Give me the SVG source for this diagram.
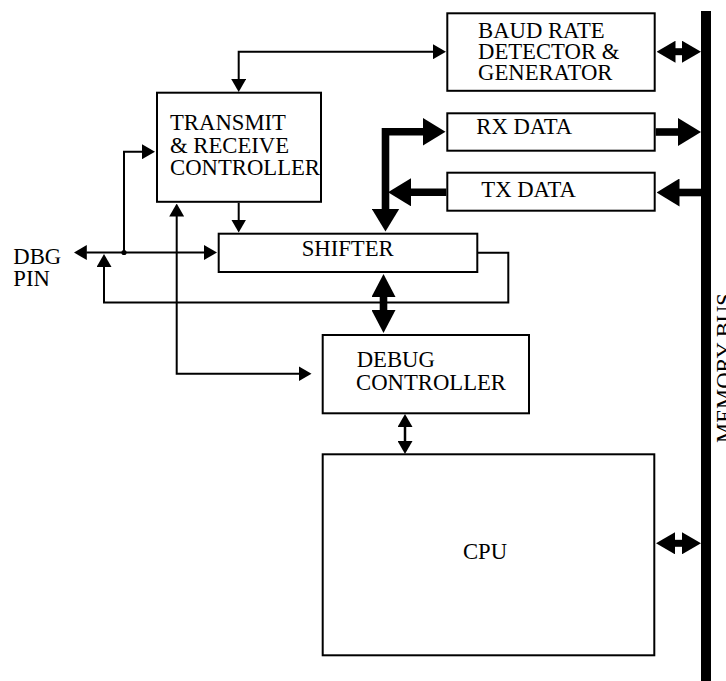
<svg xmlns="http://www.w3.org/2000/svg" width="726" height="681" viewBox="0 0 726 681">
<style>
.box{fill:#fff;stroke:#000;stroke-width:2}
.t{font-size:22.7px;fill:#000}
.thin{fill:none;stroke:#000;stroke-width:2}
.thk{fill:none;stroke:#000;stroke-width:7.6;stroke-linejoin:miter}
.mid{fill:none;stroke:#000;stroke-width:7}
</style>
<defs>
<marker id="ah" markerUnits="userSpaceOnUse" markerWidth="13" markerHeight="15" viewBox="0 0 13 15" refX="0.5" refY="7.5" orient="auto-start-reverse"><path d="M0,0 L13,7.5 L0,15 z"/></marker>
<marker id="ahT" markerUnits="userSpaceOnUse" markerWidth="23" markerHeight="28" viewBox="0 0 23 28" refX="0.5" refY="14" orient="auto-start-reverse"><path d="M0,0 L23,14 L0,28 z"/></marker>
<marker id="ahB" markerUnits="userSpaceOnUse" markerWidth="19" markerHeight="22" viewBox="0 0 19 22" refX="0.5" refY="11" orient="auto-start-reverse"><path d="M0,0 L19,11 L0,22 z"/></marker>
<marker id="ahC" markerUnits="userSpaceOnUse" markerWidth="23" markerHeight="24" viewBox="0 0 23 24" refX="0.5" refY="12" orient="auto-start-reverse"><path d="M0,0 L23,12 L0,24 z"/></marker>
</defs>

<g font-family="'Liberation Serif', 'Times New Roman', Times, 'DejaVu Serif', serif">
<g id="memory-bus">
<rect x="701" y="11" width="10" height="670" fill="#000"/>
<text class="t" transform="translate(731.5,443) rotate(-90)">MEMORY BUS</text>
</g>

<g id="baud">
<rect class="box" x="447.3" y="13.3" width="207.4" height="77.5"/>
<text class="t" x="478" y="38">BAUD RATE</text>
<text class="t" x="478" y="58.5">DETECTOR &amp;</text>
<text class="t" x="478" y="79.5">GENERATOR</text>
</g>

<g id="rx-data">
<rect class="box" x="447.3" y="113.3" width="207.4" height="37.4"/>
<text class="t" x="476.3" y="133.5">RX DATA</text>
</g>

<g id="tx-data">
<rect class="box" x="447.3" y="172.7" width="207.4" height="38"/>
<text class="t" x="481.3" y="196.5">TX DATA</text>
</g>

<g id="transmit">
<rect class="box" x="157" y="92.7" width="164" height="109.1"/>
<text class="t" x="170" y="130">TRANSMIT</text>
<text class="t" x="170" y="152.7">&amp; RECEIVE</text>
<text class="t" x="170" y="175">CONTROLLER</text>
</g>

<g id="shifter">
<rect class="box" x="218.7" y="233.7" width="258.6" height="38.3"/>
<text class="t" x="301.7" y="256">SHIFTER</text>
</g>

<g id="debug">
<rect class="box" x="322.7" y="335" width="206.3" height="78.3"/>
<text class="t" x="356.7" y="366.5">DEBUG</text>
<text class="t" x="356" y="389.5">CONTROLLER</text>
</g>

<g id="cpu">
<rect class="box" x="322.7" y="454.3" width="331.6" height="201"/>
<text class="t" x="485" y="559.3" text-anchor="middle">CPU</text>
</g>

<g id="dbg-pin">
<text class="t" x="13.3" y="264.3">DBG</text>
<text class="t" x="13.3" y="286">PIN</text>
</g>
</g>

<g id="connectors">
<path class="thin" d="M238.7,79.5 V51.7 H433.5" marker-start="url(#ah)" marker-end="url(#ah)"/>
<path class="thin" d="M238.7,202.8 V220" marker-end="url(#ah)"/>
<path class="thin" d="M86.3,252.5 H204.5" marker-start="url(#ah)" marker-end="url(#ah)"/>
<circle cx="124" cy="252.5" r="2.6" fill="#000"/>
<path class="thin" d="M124,252.5 V151.7 H142.5" marker-end="url(#ah)"/>
<path class="thin" d="M478,252.7 H508.3 V302.5 H104 V266.5" marker-end="url(#ah)"/>
<path class="thin" d="M176.7,216 V373.7 H299" marker-start="url(#ah)" marker-end="url(#ah)"/>
<path class="thk" d="M385.5,209 V131.8 H423" marker-start="url(#ahT)" marker-end="url(#ahT)"/>
<path class="thk" d="M446.3,192.3 H410.5" marker-end="url(#ahT)"/>
<path class="thk" d="M655.7,132 H678.5" marker-end="url(#ahT)"/>
<path class="thk" d="M701,192.5 H679" marker-end="url(#ahT)"/>
<path class="mid" d="M675,51.7 H682.5" marker-start="url(#ahB)" marker-end="url(#ahB)"/>
<path class="mid" d="M674.5,543.3 H682.5" marker-start="url(#ahB)" marker-end="url(#ahB)"/>
<path class="thk" d="M383.5,296.5 V310.5" marker-start="url(#ahC)" marker-end="url(#ahC)"/>
<path class="thin" style="stroke-width:2.5" d="M405,426.5 V441.5" marker-start="url(#ah)" marker-end="url(#ah)"/>
</g>
</svg>
